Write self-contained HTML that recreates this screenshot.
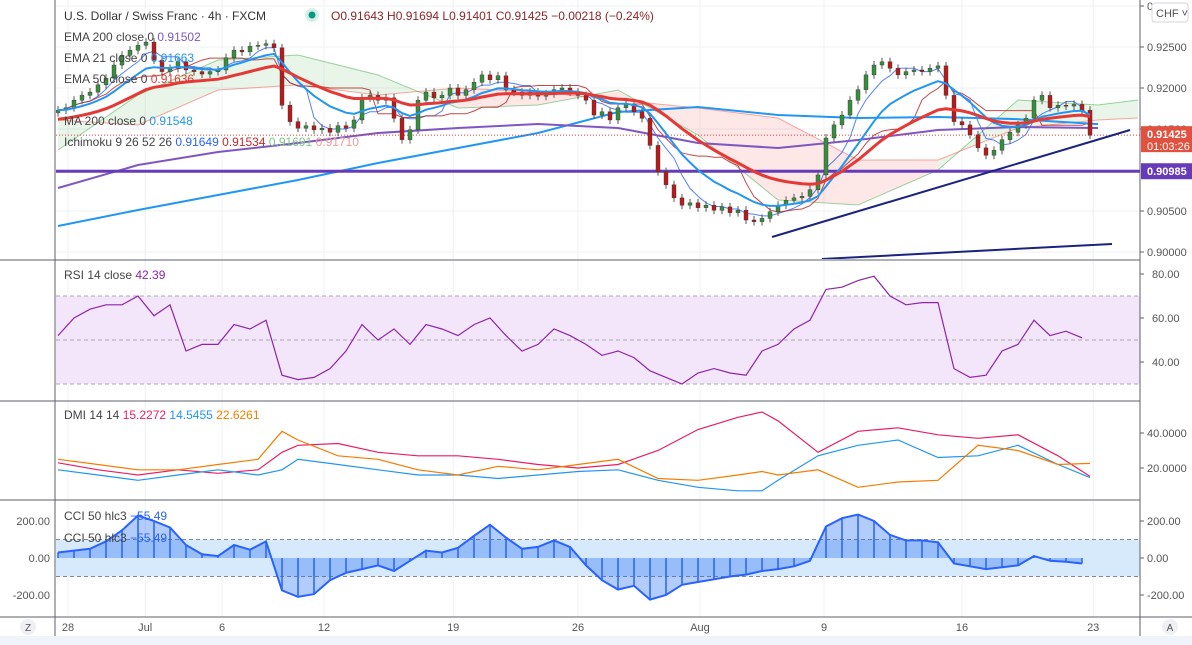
<!DOCTYPE html>
<html><head><meta charset="utf-8"><style>
html,body{margin:0;padding:0;background:#fff;width:1192px;height:645px;overflow:hidden;font-family:"Liberation Sans",sans-serif;}
svg text{font-family:"Liberation Sans",sans-serif;}
</style></head><body>
<svg id="chart" width="1192" height="645" xmlns="http://www.w3.org/2000/svg">
<defs>
<clipPath id="cMain"><rect x="56" y="0" width="1084" height="259"/></clipPath>
<clipPath id="cRsi"><rect x="56" y="262" width="1084" height="139"/></clipPath>
<clipPath id="cDmi"><rect x="56" y="402" width="1084" height="98"/></clipPath>
<clipPath id="cCci"><rect x="56" y="501" width="1084" height="116"/></clipPath>
</defs>
<g id="grid"></g>
<g id="main" clip-path="url(#cMain)"></g>
<g id="rsi" clip-path="url(#cRsi)"></g>
<g id="dmi" clip-path="url(#cDmi)"></g>
<g id="cci" clip-path="url(#cCci)"></g>
<g id="frame"></g>
<g id="labels"></g>
</svg>
<script>
// ===== DATA =====
const closes=[0.9173,0.9176,0.9185,0.9191,0.9195,0.9204,0.9212,0.9228,0.9240,0.9246,0.9252,0.9256,0.9234,0.9220,0.9224,0.9232,0.9222,0.9220,0.9217,0.9220,0.9222,0.9237,0.9246,0.9244,0.9251,0.9252,0.9254,0.9249,0.9179,0.9159,0.9151,0.9154,0.9149,0.9151,0.9146,0.9154,0.9151,0.9161,0.9188,0.9191,0.9185,0.9188,0.9163,0.9137,0.9149,0.9185,0.9195,0.9188,0.9191,0.9200,0.9191,0.9198,0.9207,0.9216,0.9210,0.9215,0.9198,0.9195,0.9191,0.9195,0.9190,0.9193,0.9198,0.9200,0.9195,0.9191,0.9185,0.9167,0.9171,0.9161,0.9176,0.9180,0.9171,0.9163,0.9130,0.9098,0.9082,0.9066,0.9057,0.9060,0.9054,0.9057,0.9051,0.9055,0.9048,0.9051,0.9039,0.9037,0.9041,0.9049,0.9057,0.9063,0.9066,0.9068,0.9076,0.9094,0.9139,0.9155,0.9167,0.9185,0.9198,0.9216,0.9228,0.9232,0.9224,0.9216,0.9220,0.9222,0.9220,0.9224,0.9227,0.9191,0.9159,0.9155,0.9143,0.9127,0.9118,0.9124,0.9137,0.9146,0.9155,0.9163,0.9185,0.9191,0.9176,0.9179,0.9178,0.9180,0.9173,0.91425];
const ema21Seed=0.9173;
const ema50Seed=0.9161;
const ema200Vals=[0.90780,0.91061,0.91220,0.91329,0.91451,0.91512,0.91561,0.91512,0.91329,0.91268,0.91366,0.91488,0.91524,0.91512];
const ma200Vals=[0.90317,0.90512,0.90695,0.90878,0.91085,0.91268,0.91451,0.91707,0.91768,0.91671,0.91634,0.91646,0.91620,0.91560];
const cloudIdx=[0,10,20,30,40,50,60,70,80,90,100,110,120,130,135];
const spanA=[0.91244,0.91915,0.92341,0.92402,0.92159,0.91756,0.91793,0.91976,0.91427,0.90634,0.90573,0.91000,0.91854,0.91793,0.91854];
const spanB=[0.91610,0.91549,0.91976,0.92037,0.91915,0.92000,0.91951,0.91854,0.91756,0.91634,0.91122,0.91122,0.91512,0.91610,0.91634];
const hLevel=0.90985;
const lastPrice=0.91425;
const trend1=[[89.25,0.90183],[134,0.91488]];
const trend2=[[95.5,0.89915],[131.75,0.90098]];
const priceTicks=["0.93000","0.92500","0.92000","0.91500","0.90500","0.90000"];
const rsiVals=[52,60,64,66,66,70,61,66,45,48,48,57,55,59,34,32,33,37,45,57,50,55,48,57,55,52,57,60,52,45,48,55,52,48,43,45,42,36,33,30,35,37,35,34,45,48,55,59,73,74,77,79,70,66,67,67,37,33,34,45,48,59,52,54,51];
const rsiTicks=[80,60,40];
const dmiIdx=[0,5,10,15,20,25,28,30,35,40,45,50,55,60,65,70,75,80,85,88,90,95,100,105,110,115,120,125,129];
const diPlus=[23,19,16,19,17,19,29,33,34,29,27,27,25,22,20,22,30,42,49,52,47,29,41,43,39,37,39,27,15.2];
const diMinus=[19,16,13,16,19,16,19,25,22,19,16,16,14,16,18,19,13,9,7,7,13,27,33,36,26,27,33,22,14.5];
const adxVals=[25,22,19,19,22,25,41,36,27,25,19,16,21,19,22,25,14,13,16,18,16,19,9,12,13,33,30,22,22.6];
const dmiTicks=["40.0000","20.0000"];
const cciVals=[30,40,50,90,150,230,200,165,70,20,10,70,45,90,-175,-210,-195,-120,-80,-60,-40,-70,-15,40,30,55,120,180,110,50,60,95,60,-40,-120,-170,-150,-225,-200,-145,-130,-115,-100,-90,-70,-60,-45,-15,170,215,235,200,125,95,95,85,-30,-45,-60,-50,-40,10,-15,-20,-30];
const cciTicks=[200,0,-200];
const dateLabels=["28","Jul","6","12","19","26","Aug","9","16","23"];
const dateIdx=[1.25,10.9,20.5,33.25,49.4,65,80.25,95.75,113,129.4];

// ===== SCALES =====
const bx=i=>58+8*i;
const py=p=>88+(0.92-p)*8200;
const ry=v=>340-(v-50)*2.2;
const dy=v=>468-(v-20)*1.75;
const cy=v=>558-v*0.185;
const NS="http://www.w3.org/2000/svg";
function mk(parent,tag,attrs){const e=document.createElementNS(NS,tag);for(const k in attrs)e.setAttribute(k,attrs[k]);document.getElementById(parent).appendChild(e);return e;}
function poly(pts){return pts.map(p=>p[0].toFixed(1)+","+p[1].toFixed(1)).join(" ");}

// ===== GRID =====
dateIdx.forEach((d,i)=>{
  const l=mk("grid","line",{x1:bx(d),x2:bx(d),y1:0,y2:617,stroke:"#eef0f4","stroke-width":1});
  
  
});
[0.93,0.925,0.92,0.915,0.91,0.905,0.90].forEach(p=>{
  const l=mk("grid","line",{x1:56,x2:1140,y1:py(p),y2:py(p),stroke:"#eef0f4"});
  
  
});

// ===== MAIN PANE =====
for(let s=0;s<cloudIdx.length-1;s++){
  const x1=bx(cloudIdx[s]),x2=bx(cloudIdx[s+1]);
  const green=(spanA[s]+spanA[s+1])>=(spanB[s]+spanB[s+1]);
  const c=mk("main","polygon",{points:poly([[x1,py(spanA[s])],[x2,py(spanA[s+1])],[x2,py(spanB[s+1])],[x1,py(spanB[s])]]),fill:green?"rgba(76,175,80,0.13)":"rgba(244,67,54,0.12)"});
  
  
}
const la=mk("main","polyline",{points:poly(cloudIdx.map((k,i)=>[bx(k),py(spanA[i])])),fill:"none",stroke:"rgba(76,175,80,0.55)","stroke-width":1});


const lb=mk("main","polyline",{points:poly(cloudIdx.map((k,i)=>[bx(k),py(spanB[i])])),fill:"none",stroke:"rgba(244,67,54,0.45)","stroke-width":1});



function donch(n){return closes.map((c,i)=>{const w=closes.slice(Math.max(0,i-n+1),i+1);return (Math.max(...w)+Math.min(...w))/2;});}
const tenkan=donch(5),kijun=donch(13);
const tk=mk("main","polyline",{points:poly(tenkan.map((v,i)=>[bx(i),py(v)])),fill:"none",stroke:"#2962ff","stroke-width":1,opacity:0.8});


const kj=mk("main","polyline",{points:poly(kijun.map((v,i)=>[bx(i),py(v)])),fill:"none",stroke:"#b71c1c","stroke-width":1,opacity:0.8});



const ma=mk("main","polyline",{points:poly(ma200Vals.map((v,i)=>[bx(i*10),py(v)])),fill:"none",stroke:"#2196f3","stroke-width":2});


const e200=mk("main","polyline",{points:poly(ema200Vals.map((v,i)=>[bx(i*10),py(v)])),fill:"none",stroke:"#7e57c2","stroke-width":2});



const hl=mk("main","line",{x1:56,x2:1140,y1:py(hLevel),y2:py(hLevel),stroke:"#673ab7","stroke-width":3});


const lp=mk("main","line",{x1:56,x2:1140,y1:py(lastPrice),y2:py(lastPrice),stroke:"#e53935","stroke-width":1,"stroke-dasharray":"1,2"});



for(let i=0;i<closes.length;i++){
  const o=i?closes[i-1]:closes[0]-0.0003,c=closes[i];
  const up=c>=o,col=up?"#388e3c":"#b71c1c";
  const top=py(Math.max(o,c)),bot=py(Math.min(o,c));
  const w=mk("main","line",{x1:bx(i),x2:bx(i),y1:top-4,y2:bot+4,stroke:"#555","stroke-width":1});
  
  
  const b=mk("main","rect",{x:bx(i)-2,y:top,width:4,height:Math.max(1,bot-top),fill:col,stroke:"#333","stroke-width":0.4});
  
  
}
function ema(seed,n){const k=2/(n+1);let e=seed;return closes.map(c=>{e=c*k+e*(1-k);return e;});}
const e21=mk("main","polyline",{points:poly(ema(ema21Seed,11).map((v,i)=>[bx(i),py(v)])),fill:"none",stroke:"#2196f3","stroke-width":2});


const e50=mk("main","polyline",{points:poly(ema(ema50Seed,25).map((v,i)=>[bx(i),py(v)])),fill:"none",stroke:"#e53935","stroke-width":3});


[trend1,trend2].forEach((t,i)=>{
  const l=mk("main","line",{x1:bx(t[0][0]),y1:py(t[0][1]),x2:bx(t[1][0]),y2:py(t[1][1]),stroke:"#1a237e","stroke-width":2});
  
  
});

// ===== RSI =====
const rb=mk("rsi","rect",{x:56,y:ry(70),width:1084,height:ry(30)-ry(70),fill:"#f3e6fb"});


[70,50,30].forEach(v=>{
  const l=mk("rsi","line",{x1:56,x2:1140,y1:ry(v),y2:ry(v),stroke:"#aaa","stroke-dasharray":"4,3","stroke-width":1});
  
  
});
const rl=mk("rsi","polyline",{points:poly(rsiVals.map((v,i)=>[bx(i*2),ry(v)])),fill:"none",stroke:"#8e24aa","stroke-width":1.2});



// ===== DMI =====
[[diPlus,"#e91e63","di-plus-line"],[diMinus,"#2196f3","di-minus-line"],[adxVals,"#f57c00","adx-line"]].forEach(s=>{
  const l=mk("dmi","polyline",{points:poly(s[0].map((v,i)=>[bx(dmiIdx[i]),dy(v)])),fill:"none",stroke:s[1],"stroke-width":1.2});
  
  
});

// ===== CCI =====
const cb=mk("cci","rect",{x:56,y:cy(100),width:1084,height:cy(-100)-cy(100),fill:"#d6eafc"});


[100,-100].forEach(v=>{
  const l=mk("cci","line",{x1:56,x2:1140,y1:cy(v),y2:cy(v),stroke:"#888","stroke-dasharray":"4,3"});
  
  
});
const cpts=cciVals.map((v,i)=>[bx(i*2),cy(v)]);
const cf=mk("cci","polygon",{points:poly([[bx(0),cy(0)],...cpts,[bx((cciVals.length-1)*2),cy(0)]]),fill:"rgba(33,110,243,0.35)"});


cciVals.forEach((v,i)=>{
  const l=mk("cci","line",{x1:bx(i*2),x2:bx(i*2),y1:cy(0),y2:cy(v),stroke:"#2962ff","stroke-width":1.5});
  
  
});
const cl=mk("cci","polyline",{points:poly(cpts),fill:"none",stroke:"#2962ff","stroke-width":2});



// ===== FRAME =====
[[55,0,55,645],[1140,0,1140,645],[0,260,1140,260],[0,401,1140,401],[0,500,1140,500],[0,617,1192,617]].forEach(a=>{
  const l=mk("frame","line",{x1:a[0],y1:a[1],x2:a[2],y2:a[3],stroke:"#5d606b","stroke-width":1});
  
  
});
const bot=mk("frame","rect",{x:0,y:636,width:1192,height:9,fill:"#f0f3fa"});



// ===== LABELS =====
function txt(x,y,s,fill,size,name,anchor){const t=mk("labels","text",{x:x,y:y,fill:fill,"font-size":size||11,"text-anchor":anchor||"start"});t.textContent=s;return t;}
const pvals=[0.93,0.925,0.92,0.915,0.905,0.90];
priceTicks.forEach((s,i)=>{mk("labels","line",{x1:1140,x2:1144,y1:py(pvals[i]),y2:py(pvals[i]),stroke:"#5d606b"});txt(1147,py(pvals[i])+4,s,"#555",11,"price-tick-label");});
rsiTicks.forEach(v=>{mk("labels","line",{x1:1140,x2:1144,y1:ry(v),y2:ry(v),stroke:"#5d606b"});txt(1152,ry(v)+4,v.toFixed(2),"#555",11,"rsi-tick-label");});
[40,20].forEach((v,i)=>{mk("labels","line",{x1:1140,x2:1144,y1:dy(v),y2:dy(v),stroke:"#5d606b"});txt(1147,dy(v)+4,dmiTicks[i],"#555",11,"dmi-tick-label");});
cciTicks.forEach(v=>{mk("labels","line",{x1:1140,x2:1144,y1:cy(v),y2:cy(v),stroke:"#5d606b"});txt(1147,cy(v)+4,v.toFixed(2),"#555",11,"cci-tick-label");txt(50,cy(v)+4,v.toFixed(2),"#555",11,"cci-left-tick-label","end");});
dateLabels.forEach((s,i)=>txt(bx(dateIdx[i]),631,s,"#555",11,"date-label","middle"));
const rbx=mk("labels","rect",{x:1141,y:py(lastPrice)-9,width:51,height:26,fill:"#e0523f"});


txt(1147,py(lastPrice)+3,"0.91425","#fff",11,"last-price-label").setAttribute("font-weight","bold");
txt(1147,py(lastPrice)+15,"01:03:26","#fff",11,"countdown-label");
const pbx=mk("labels","rect",{x:1141,y:py(hLevel)-8,width:51,height:16,fill:"#673ab7"});


txt(1147,py(hLevel)+4,"0.90985","#fff",11,"level-price-label").setAttribute("font-weight","bold");
const chf=mk("labels","rect",{x:1152,y:3,width:36,height:19,rx:3,fill:"#fff",stroke:"#d1d4dc"});


txt(1156,17,"CHF ˅","#555",11,"currency-label");
const zc=mk("labels","circle",{cx:28,cy:627,r:8,fill:"#eef0f4"});


txt(28,631,"Z","#555",10,"zoom-label","middle");
const ac=mk("labels","circle",{cx:1170,cy:627,r:8,fill:"#eef0f4"});


txt(1170,631,"A","#555",10,"auto-label","middle");

function legend(y,parts,name){const t=mk("labels","text",{x:64,y:y,"font-size":12});parts.forEach(p=>{const s=document.createElementNS(NS,"tspan");s.setAttribute("fill",p[1]);s.textContent=p[0];t.appendChild(s);});}
legend(20,[["U.S. Dollar / Swiss Franc · 4h · FXCM","#333"]],"chart-title");
const gd=mk("labels","circle",{cx:312,cy:15,r:7,fill:"#d6efe9"});


mk("labels","circle",{cx:312,cy:15,r:3.5,fill:"#089981"});
const ohlc=mk("labels","text",{x:331,y:20,"font-size":12,fill:"#8b2525"});ohlc.textContent="O0.91643  H0.91694  L0.91401  C0.91425  −0.00218 (−0.24%)";


legend(41,[["EMA 200 close 0  ","#444"],["0.91502","#7e57c2"]],"legend-ema-200");
legend(62,[["EMA 21 close 0  ","#444"],["0.91663","#2196f3"]],"legend-ema-21");
legend(83,[["EMA 50 close 0  ","#444"],["0.91636","#e53935"]],"legend-ema-50");
legend(125,[["MA 200 close 0  ","#444"],["0.91548","#2196f3"]],"legend-ma-200");
legend(146,[["Ichimoku 9 26 52 26  ","#444"],["0.91649  ","#2962ff"],["0.91534  ","#c62828"],["0.91691  ","#81c784"],["0.91710","#ef9a9a"]],"legend-ichimoku");
legend(279,[["RSI 14 close  ","#444"],["42.39","#8e24aa"]],"legend-rsi");
legend(419,[["DMI 14 14  ","#444"],["15.2272  ","#e91e63"],["14.5455  ","#2196f3"],["22.6261","#f57c00"]],"legend-dmi");
legend(520,[["CCI 50 hlc3  ","#444"],["−55.49","#2962ff"]],"legend-cci");
legend(542,[["CCI 50 hlc3  ","#444"],["−55.49","#2962ff"]],"legend-cci-2");
</script>
</body></html>
